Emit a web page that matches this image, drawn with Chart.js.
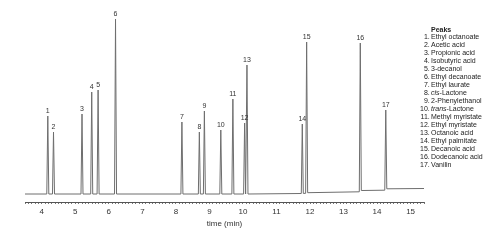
<!DOCTYPE html>
<html><head><meta charset="utf-8">
<script src="https://cdn.jsdelivr.net/npm/chart.js@4"></script>
<style>html,body{margin:0;padding:0;background:#fff}#wrap{width:500px;height:241px;position:relative}</style>
</head><body><div id="wrap"><canvas id="c"></canvas></div>
<script>
// ---- data ----
const peakNumbers = [1,2,3,4,5,6,7,8,9,10,11,12,13,14,15,16,17];
const peakNames = ["Ethyl octanoate","Acetic acid","Propionic acid","Isobutyric acid","3-decanol","Ethyl decanoate","Ethyl laurate","cis-Lactone","2-Phenylethanol","trans-Lactone","Methyl myristate","Ethyl myristate","Octanoic acid","Ethyl palmitate","Decanoic acid","Dodecanoic acid","Vanilin"];
const peakTimes = [4.18,4.35,5.20,5.49,5.68,6.20,8.18,8.70,8.85,9.34,9.70,10.05,10.12,11.77,11.90,13.50,14.26];
const peakApex = [78,62,80,102,104,175,72,62,83,64,95,71,129,70,152,151,84];
const peakBaseBefore = [0,0,0,0,0,0,0,0,0,0,0,0,0,0.5,0.7,2.2,3.8];
const peakBaseAfter  = [0,0,0,0,0,0,0,0,0,0,0,0,0,0.6,1.3,3.5,5.2];
const baselineTimes = [3.5, 15.4];
const baselineValues = [0, 5.5];
const xTickLabels = ["4","5","6","7","8","9","10","11","12","13","14","15"];
const xTitle = "time (min)";
const legendTitle = "Peaks";

// ---- build the trace ----
const halfW = 0.03;
const pts = [];
baselineTimes.forEach((t,i)=>pts.push({x:t,y:baselineValues[i]}));
peakTimes.forEach((t,i)=>{
  pts.push({x:t-halfW,y:peakBaseBefore[i]});
  pts.push({x:t,y:peakApex[i]});
  pts.push({x:t+halfW,y:peakBaseAfter[i]});
});
pts.sort((a,b)=>a.x-b.x);

const NARROW = '"Liberation Sans Narrow","Arial Narrow","Liberation Sans",Arial,sans-serif';
const LINE = '#6e6e6e';

const annot = {
  id:'annot',
  afterDatasetsDraw(chart){
    const ctx = chart.ctx, xs = chart.scales.x, ys = chart.scales.y;
    ctx.save();
    ctx.fillStyle = '#333';
    ctx.font = '7px ' + NARROW;
    ctx.textAlign = 'center';
    ctx.textBaseline = 'alphabetic';
    peakTimes.forEach((t,i)=>{
      ctx.fillText(String(peakNumbers[i]), xs.getPixelForValue(t), ys.getPixelForValue(peakApex[i]) - 3);
    });
    // legend
    const nx = 429.8, tx = 431, y0 = 36.7 + 2.5, dy = 7.98;
    ctx.textAlign = 'left';
    ctx.font = 'bold 7px ' + NARROW;
    ctx.fillStyle = '#222';
    ctx.fillText(legendTitle, tx, 29.3 + 2.5);
    peakNames.forEach((name,i)=>{
      const y = y0 + i*dy;
      ctx.font = '7px ' + NARROW;
      ctx.textAlign = 'right';
      ctx.fillText(peakNumbers[i] + '.', nx, y);
      ctx.textAlign = 'left';
      const m = name.match(/^(cis|trans)(-.*)$/);
      if (m) {
        ctx.font = 'italic 7px ' + NARROW;
        ctx.fillText(m[1], tx, y);
        const w = ctx.measureText(m[1]).width;
        ctx.font = '7px ' + NARROW;
        ctx.fillText(m[2], tx + w, y);
      } else {
        ctx.fillText(name, tx, y);
      }
    });
    ctx.restore();
  }
};

new Chart(document.getElementById('c'), {
  type:'line',
  data:{datasets:[{data:pts, borderColor:LINE, borderWidth:1, pointRadius:0, tension:0, fill:false}]},
  options:{
    responsive:true, maintainAspectRatio:false, animation:false,
    layout:{padding:{left:25, right:76, top:4, bottom:0}},
    plugins:{legend:{display:false}, tooltip:{enabled:false}},
    scales:{
      x:{type:'linear', min:3.5, max:15.4,
        ticks:{stepSize:0.1, autoSkip:false, maxRotation:0, padding:3, color:'#333',
          font:{family:NARROW, size:8},
          callback:(v)=>{ const r=Math.round(v); return Math.abs(v-r)<1e-6 && xTickLabels.includes(String(r)) ? String(r) : ''; }},
        grid:{drawOnChartArea:false, drawTicks:true, tickLength:2, color:'#555', lineWidth:0.8},
        border:{display:true, color:'#555', width:1},
        title:{display:true, text:xTitle, color:'#333', font:{family:NARROW, size:8}, padding:{top:0,bottom:12}},
        afterFit:(s)=>{ s.height = 39; }
      },
      y:{display:false, min:-8, max:190}
    }
  },
  plugins:[annot]
});
</script>
</body></html>
